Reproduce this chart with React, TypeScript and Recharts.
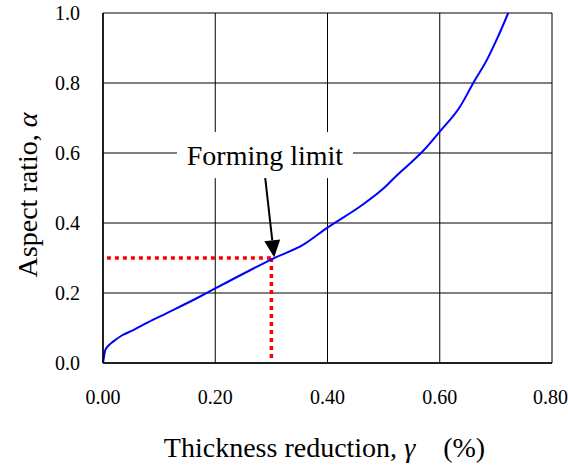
import React from 'react';
import { LineChart, Line, XAxis, YAxis, CartesianGrid, ReferenceLine, ReferenceDot } from 'recharts';

// curve: thickness reduction (gamma) vs aspect ratio (alpha)
const gamma = [0, 0.002, 0.004, 0.01, 0.018, 0.035, 0.054, 0.08, 0.113, 0.173, 0.2, 0.262, 0.304, 0.357, 0.4, 0.458, 0.5, 0.523, 0.547, 0.571, 0.6, 0.636, 0.66, 0.684, 0.704, 0.722];
const alpha = [0, 0.02, 0.037, 0.05, 0.061, 0.08, 0.094, 0.116, 0.142, 0.19, 0.213, 0.265, 0.299, 0.338, 0.387, 0.447, 0.499, 0.535, 0.57, 0.607, 0.661, 0.732, 0.801, 0.866, 0.933, 1.0];

const xTicks = [0, 0.2, 0.4, 0.6, 0.8];
const yTicks = [0, 0.2, 0.4, 0.6, 0.8, 1.0];

// forming limit point and the annotation
const limitX = 0.3;
const limitY = 0.3;
const arrowFrom = { x: 0.289, y: 0.529 };
const arrowTo = { x: 0.305, y: 0.302 };
const labelAt = { x: 0.2886, y: 0.594 };
const labelText = 'Forming limit';

const data = gamma.map((g, i) => ({ gamma: g, alpha: alpha[i] }));

const font = "'Liberation Serif', 'Times New Roman', serif";

const Arrow = (props: any) => {
  const { x1, y1, x2, y2 } = props;
  const dx = x2 - x1;
  const dy = y2 - y1;
  const len = Math.sqrt(dx * dx + dy * dy);
  const ux = dx / len;
  const uy = dy / len;
  const headLen = 17;
  const headW = 8;
  const bx = x2 - ux * headLen;
  const by = y2 - uy * headLen;
  const pts = `${x2},${y2} ${bx - uy * headW},${by + ux * headW} ${bx + uy * headW},${by - ux * headW}`;
  return (
    <g>
      <line x1={x1} y1={y1} x2={bx} y2={by} stroke="#000" strokeWidth={2} />
      <polygon points={pts} fill="#000" />
    </g>
  );
};

const LabelBox = (props: any) => {
  const { cx, cy } = props;
  return (
    <g>
      <rect x={cx - 88} y={cy - 23} width={176} height={46} fill="#fff" />
      <text x={cx} y={cy + 10} textAnchor="middle" style={{ fontFamily: font, fontSize: 28 }} fill="#000">
        {labelText}
      </text>
    </g>
  );
};

const XTitle = (props: any) => {
  const vb = props.viewBox || {};
  const cx = vb.x + vb.width / 2 - 3;
  return (
    <text x={cx} y={457} textAnchor="middle" style={{ fontFamily: font, fontSize: 28 }} fill="#000">
      Thickness reduction, <tspan fontStyle="italic">γ</tspan>
      {'\u00a0\u00a0\u00a0\u00a0'}(%)
    </text>
  );
};

const YTitle = () => {
  const cx = 37;
  const cy = 195;
  return (
    <text x={cx} y={cy} transform={`rotate(-90, ${cx}, ${cy})`} textAnchor="middle" style={{ fontFamily: font, fontSize: 28 }} fill="#000">
      Aspect ratio, <tspan fontStyle="italic">α</tspan>
    </text>
  );
};

export default function App() {
  return (
    <div style={{ position: 'absolute', left: 0, top: 0, width: 568, height: 466, background: '#fff' }}>
      <LineChart width={568} height={466} data={data} margin={{ top: 13, right: 16, left: 0, bottom: 0 }}>
        <CartesianGrid stroke="#000" strokeWidth={1} />
        <XAxis
          dataKey="gamma"
          type="number"
          domain={[0, 0.8]}
          ticks={xTicks}
          tickFormatter={(v: number) => v.toFixed(2)}
          height={103}
          tickLine={false}
          tickSize={0}
          tickMargin={27}
          axisLine={{ stroke: '#000', strokeWidth: 1.5 }}
          tick={{ fill: '#000', fontSize: 20, fontFamily: font }}
          label={{ content: XTitle }}
        />
        <YAxis
          type="number"
          domain={[0, 1]}
          ticks={yTicks}
          tickFormatter={(v: number) => v.toFixed(1)}
          width={103}
          tickLine={false}
          tickSize={0}
          tickMargin={23}
          axisLine={{ stroke: '#000', strokeWidth: 1.5 }}
          tick={{ fill: '#000', fontSize: 20, fontFamily: font }}
          label={{ content: YTitle }}
        />
        <ReferenceLine
          segment={[{ x: 0.007, y: limitY }, { x: limitX, y: limitY }]}
          stroke="#ff0000"
          strokeWidth={3.5}
          strokeDasharray="4 4"
        />
        <ReferenceLine
          segment={[{ x: limitX, y: limitY }, { x: limitX, y: 0.008 }]}
          stroke="#ff0000"
          strokeWidth={3.5}
          strokeDasharray="4 4"
        />
        <Line
          type="monotone"
          dataKey="alpha"
          stroke="#0000ff"
          strokeWidth={2}
          dot={false}
          isAnimationActive={false}
        />
        <ReferenceLine segment={[arrowFrom, arrowTo]} shape={Arrow} />
        <ReferenceDot x={labelAt.x} y={labelAt.y} r={1} shape={LabelBox} />
      </LineChart>
    </div>
  );
}
